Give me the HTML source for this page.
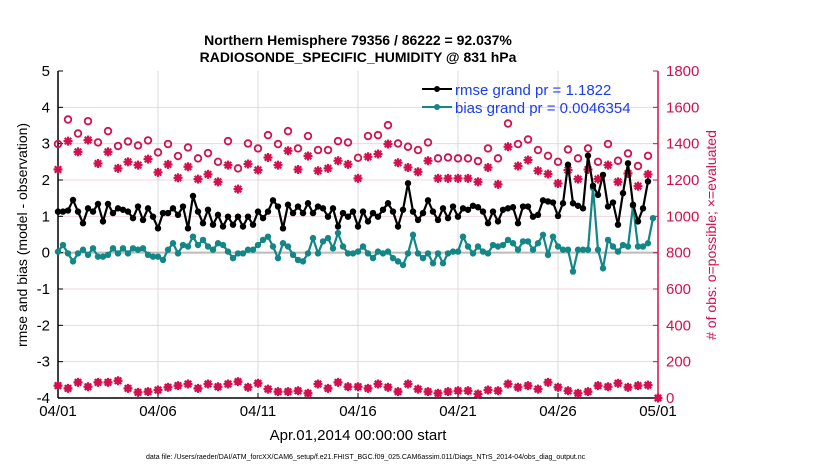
<!DOCTYPE html>
<html><head><meta charset="utf-8"><style>
body{margin:0;background:#fff;}
svg{display:block;font-family:"Liberation Sans",sans-serif;}
</style></head><body>
<svg id="chart" width="830" height="470" viewBox="0 0 830 470">
<text x="358" y="45" text-anchor="middle" font-size="14" font-weight="bold">Northern Hemisphere 79356 / 86222 = 92.037%</text>
<text x="358" y="62" text-anchor="middle" font-size="14" font-weight="bold">RADIOSONDE_SPECIFIC_HUMIDITY @ 831 hPa</text>
<g id="grid"></g>
<g id="axes"></g>
<g id="marks"></g>
<g>
 <line x1="422" y1="89" x2="452" y2="89" stroke="#000" stroke-width="2"/><circle cx="437" cy="89" r="3" fill="#000"/>
 <text x="455" y="95" font-size="15" fill="#1a3cf0">rmse grand pr = 1.1822</text>
 <line x1="422" y1="107" x2="452" y2="107" stroke="#138686" stroke-width="2"/><circle cx="437" cy="107" r="3" fill="#138686"/>
 <text x="455" y="113" font-size="15" fill="#1a3cf0">bias grand pr = 0.0046354</text>
</g>
<text x="358" y="440" text-anchor="middle" font-size="15">Apr.01,2014 00:00:00 start</text>
<text transform="translate(27,235) rotate(-90)" text-anchor="middle" font-size="14">rmse and bias (model - observation)</text>
<text transform="translate(716,235) rotate(-90)" text-anchor="middle" font-size="14" fill="#d3104e"># of obs: o=possible; ×=evaluated</text>
<text x="146" y="459" font-size="7">data file: /Users/raeder/DAI/ATM_forcXX/CAM6_setup/f.e21.FHIST_BGC.f09_025.CAM6assim.011/Diags_NTrS_2014-04/obs_diag_output.nc</text>
</svg>
<script>
const xTickLabels=["04/01","04/06","04/11","04/16","04/21","04/26","05/01"];
const leftTicks=[5,4,3,2,1,0,-1,-2,-3,-4];
const rightTicks=[0,200,400,600,800,1000,1200,1400,1600,1800];
const rmse=[1.13,1.13,1.16,1.45,1.13,0.81,1.22,1.13,1.34,0.86,1.34,1.09,1.22,1.18,1.13,0.95,1.27,0.90,1.22,0.99,0.67,1.09,1.09,1.22,1.04,1.27,0.67,1.56,1.13,0.81,1.18,
0.77,1.04,0.72,0.99,0.77,0.99,0.72,0.99,0.77,1.13,0.95,1.13,1.44,1.27,0.67,1.32,1.09,1.27,1.09,1.36,1.09,1.27,1.22,0.99,1.22,0.72,1.09,0.99,
1.13,
0.72,1.13,0.86,1.09,0.99,1.18,1.36,1.13,0.72,1.18,1.91,1.13,0.90,1.09,1.44,1.13,0.90,1.22,0.95,1.27,0.99,1.22,1.18,1.29,1.25,1.13,0.81,1.13,0.86,1.18,
1.22,1.25,0.81,1.27,1.27,0.99,1.04,1.44,1.41,1.38,1.01,1.36,2.42,1.36,1.29,1.22,2.67,1.84,1.59,2.14,1.27,1.38,0.77,1.64,2.46,1.32,0.86,1.22,1.96];
const bias=[0.03,0.21,-0.02,-0.24,-0.02,0.08,-0.06,0.12,-0.11,-0.11,-0.06,0.12,-0.02,0.12,-0.02,0.12,0.08,0.12,-0.06,-0.11,-0.11,-0.2,0.08,0.26,-0.02,0.21,0.17,0.44,0.21,0.35,0.17,
0.08,0.26,0.21,0.03,-0.15,-0.02,-0.02,0.08,0.08,0.21,0.35,0.44,0.17,-0.15,0.26,0.17,-0.06,-0.2,-0.24,-0.02,0.4,-0.02,0.31,0.4,0.12,0.54,0.17,-0.02,-0.02,
0.03,
0.17,-0.02,-0.15,0.03,-0.02,0.03,-0.15,-0.24,-0.34,-0.02,0.49,-0.02,-0.15,-0.02,-0.29,-0.02,-0.29,-0.02,0.03,0.03,0.44,0.17,-0.02,0.17,0.03,-0.02,0.21,0.17,0.21,0.35,
0.26,0.08,0.31,0.31,0.08,0.26,0.49,-0.06,0.44,0.17,0.08,0.08,-0.52,0.08,0.08,0.08,1.78,0.08,-0.43,0.35,0.17,0.03,0.21,0.17,1.29,0.17,0.17,0.26,0.95];
const possible=[1398,1533,1456,1524,1407,1469,1387,1412,1390,1418,1352,1398,1332,1379,1319,1348,1300,1414,1264,1401,1374,1447,1398,1469,1374,1442,1365,1365,1414,1407,1322,1442,1447,1502,1401,1383,1365,1407,1319,1324,1319,1319,1304,1374,1319,1511,1398,1423,1365,1333,1300,1368,1319,1374,1300,1398,1306,1346,1277,1333];
const evaluated=[1258,1414,1355,1420,1291,1355,1264,1300,1282,1315,1242,1286,1212,1273,1205,1231,1190,1282,1150,1288,1255,1324,1282,1361,1258,1332,1251,1264,1306,1286,1209,1328,1343,1398,1295,1269,1245,1306,1209,1209,1209,1209,1190,1269,1176,1383,1277,1310,1251,1233,1181,1255,1205,1258,1205,1282,1190,1236,1166,1231];
const lowCounts=[68,53,86,62,86,86,95,53,31,35,44,59,68,77,53,77,62,77,90,59,81,49,35,35,40,26,77,53,86,62,62,53,77,59,35,77,49,35,26,35,40,40,22,44,40,77,59,68,49,86,59,40,26,35,68,62,81,59,68,71,0];

const NS="http://www.w3.org/2000/svg";
const X0=58,X1=658,YT=71,YB=398;
const xDay=d=>X0+(X1-X0)*d/30;
const yL=v=>YB-(v+4)/9*(YB-YT);
const yR=c=>YB-c/1800*(YB-YT);
const CR="#d3104e",TEAL="#138686";
function mk(tag,attrs,parent){const e=document.createElementNS(NS,tag);for(const k in attrs)e.setAttribute(k,attrs[k]);parent.appendChild(e);return e;}
const grid=document.getElementById('grid'),axes=document.getElementById('axes'),marks=document.getElementById('marks');
rightTicks.forEach(c=>{if(c>0&&c<1800){const l=mk('line',{x1:X0,x2:X1,y1:yR(c),y2:yR(c),stroke:"#f6d3de","stroke-width":1},grid);

}});
xTickLabels.forEach((t,i)=>{const x=xDay(i*5);
if(i>0&&i<6){const g=mk('line',{x1:x,x2:x,y1:YT,y2:YB,stroke:"#d8d8d8","stroke-width":1},grid);

}
mk('line',{x1:x,x2:x,y1:YB,y2:YB-5,stroke:"#000"},axes);
const tx=mk('text',{x:x,y:416,"text-anchor":"middle","font-size":15},axes);tx.textContent=t;

});
const zl=mk('line',{x1:X0,x2:X1,y1:yL(0),y2:yL(0),stroke:"#bbbbbb","stroke-width":2},grid);


leftTicks.forEach(v=>{mk('line',{x1:X0,x2:X0+5,y1:yL(v),y2:yL(v),stroke:"#000"},axes);
const t=mk('text',{x:50,y:yL(v)+5,"text-anchor":"end","font-size":15},axes);t.textContent=v;

});
rightTicks.forEach(c=>{mk('line',{x1:X1,x2:X1-5,y1:yR(c),y2:yR(c),stroke:CR},axes);
const t=mk('text',{x:666,y:yR(c)+5,"font-size":15,fill:CR},axes);t.textContent=c;

});
mk('line',{x1:X0,x2:X0,y1:YT,y2:YB,stroke:"#000","stroke-width":1.5},axes);
mk('line',{x1:X0,x2:X1,y1:YB,y2:YB,stroke:"#000","stroke-width":1.5},axes);
mk('line',{x1:X1,x2:X1,y1:YT,y2:YB,stroke:CR,"stroke-width":1.5},axes);

function star(cx,cy,name){const g=mk('g',{stroke:CR,"stroke-width":2.2},marks);


const r=4.5;[[r,0],[0,r],[r*0.72,r*0.72],[r*0.72,-r*0.72]].forEach(([dx,dy])=>mk('line',{x1:cx-dx,y1:cy-dy,x2:cx+dx,y2:cy+dy},g));}
possible.forEach((c,i)=>{const e=mk('circle',{cx:xDay(i/2),cy:yR(c),r:3.3,fill:"none",stroke:CR,"stroke-width":1.8},marks);

});
evaluated.forEach((c,i)=>star(xDay(i/2),yR(c),'evaluated-obs-point'));
lowCounts.forEach((c,i)=>{const x=xDay(i/2),y=yR(c);
const e=mk('circle',{cx:x,cy:y,r:3.6,fill:CR},marks);


star(x,y,'low-count-star');});
function series(vals,color,name){
const p=mk('polyline',{points:vals.map((v,i)=>xDay(i/4)+","+yL(v)).join(" "),fill:"none",stroke:color,"stroke-width":2.2},marks);


vals.forEach((v,i)=>{const c=mk('circle',{cx:xDay(i/4),cy:yL(v),r:3.2,fill:color},marks);

});}
series(bias,TEAL,'bias');
series(rmse,"#000",'rmse');
</script>
</body></html>
